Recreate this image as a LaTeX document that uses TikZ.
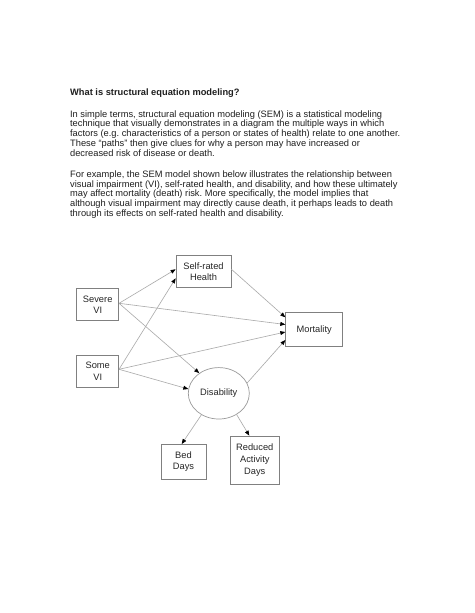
\documentclass[tikz,border=0pt]{standalone}
\usepackage{fontspec}
\setmainfont{Liberation Sans}
\usetikzlibrary{arrows.meta,shapes.geometric}
\tikzset{
  txt/.style={anchor=base west, inner sep=0pt, font=\fontsize{12}{14}\selectfont, text=black!88},
  ttl/.style={txt, font=\fontsize{12}{14}\selectfont\bfseries},
  box/.style={draw=black!50, line width=0.9pt, rectangle, inner sep=0pt, align=center,
    font=\fontsize{12}{14.5}\selectfont, text=black!85},
  oval/.style={draw=black!40, line width=0.9pt, ellipse, inner sep=0pt, align=center,
    font=\fontsize{12}{14.5}\selectfont, text=black!85},
  conn/.style={draw=black!33, line width=0.8pt,
    -{Triangle[length=6.5pt,width=5pt,color=black]}},
}
\begin{document}
\frenchspacing
\begin{tikzpicture}[x=1.2911pt, y=-1.2911pt]
\useasboundingbox[fill=white] (0,0) rectangle (474,613);

% text
\node[ttl] (title) at (70,95.7) {What is structural equation modeling?};
\node[txt] (p1a) at (70,117.0) {In simple terms, structural equation modeling (SEM) is a statistical modeling};
\node[txt] (p1b) at (70,126.8) {technique that visually demonstrates in a diagram the multiple ways in which};
\node[txt] (p1c) at (70,136.6) {factors (e.g. characteristics of a person or states of health) relate to one another.};
\node[txt] (p1d) at (70,146.4) {These ``paths'' then give clues for why a person may have increased or};
\node[txt] (p1e) at (70,156.2) {decreased risk of disease or death.};
\node[txt] (p2a) at (70,177.2) {For example, the SEM model shown below illustrates the relationship between};
\node[txt] (p2b) at (70,187.0) {visual impairment (VI), self-rated health, and disability, and how these ultimately};
\node[txt] (p2c) at (70,196.8) {may affect mortality (death) risk. More specifically, the model implies that};
\node[txt] (p2d) at (70,206.6) {although visual impairment may directly cause death, it perhaps leads to death};
\node[txt] (p2e) at (70,216.4) {through its effects on self-rated health and disability.};

% diagram nodes
\node[box, minimum width=71pt, minimum height=41.3pt] (health) at (203.5,271.7) {Self-rated\\Health};
\node[box, minimum width=54.2pt, minimum height=41.8pt] (severe) at (97.7,304.5) {Severe\\VI};
\node[box, minimum width=54.2pt, minimum height=41.3pt] (some) at (97.7,371.3) {Some\\VI};
\node[box, minimum width=73.6pt, minimum height=43.9pt] (mort) at (314.2,329.7) {Mortality};
\node[oval, minimum width=78.8pt, minimum height=66.4pt] (dis) at (218.8,393.3) {Disability};
\node[box, minimum width=58.1pt, minimum height=44.8pt] (bed) at (183.5,461.7) {Bed\\Days};
\node[box, minimum width=62.4pt, minimum height=62pt, font=\fontsize{12}{16}\selectfont] (red) at (254.8,460) {Reduced\\Activity\\Days};

% connectors
\draw[conn] ([shift={(0,-1.2)}]severe.east) -- ([shift={(0,-2.4)}]health.west);
\draw[conn] ([shift={(0,-2)}]some.east) -- ([shift={(0,6.6)}]health.west);
\draw[conn] ([shift={(0,-2.5)}]health.east) -- ([shift={(0,-12.4)}]mort.west);
\draw[conn] ([shift={(0,-1.2)}]severe.east) -- ([shift={(0,-5.2)}]mort.west);
\draw[conn] ([shift={(0,-2)}]some.east) -- ([shift={(0,2.3)}]mort.west);
\draw[conn] (dis.20) -- ([shift={(0,10.3)}]mort.west);
\draw[conn] ([shift={(0,-1.2)}]severe.east) -- (dis.134);
\draw[conn] ([shift={(0,-2)}]some.east) -- (dis.172);
\draw[conn] (dis.231) -- ([shift={(-1.8,0)}]bed.north);
\draw[conn] (dis.310) -- ([shift={(-5.5,0)}]red.north);
\end{tikzpicture}
\end{document}
